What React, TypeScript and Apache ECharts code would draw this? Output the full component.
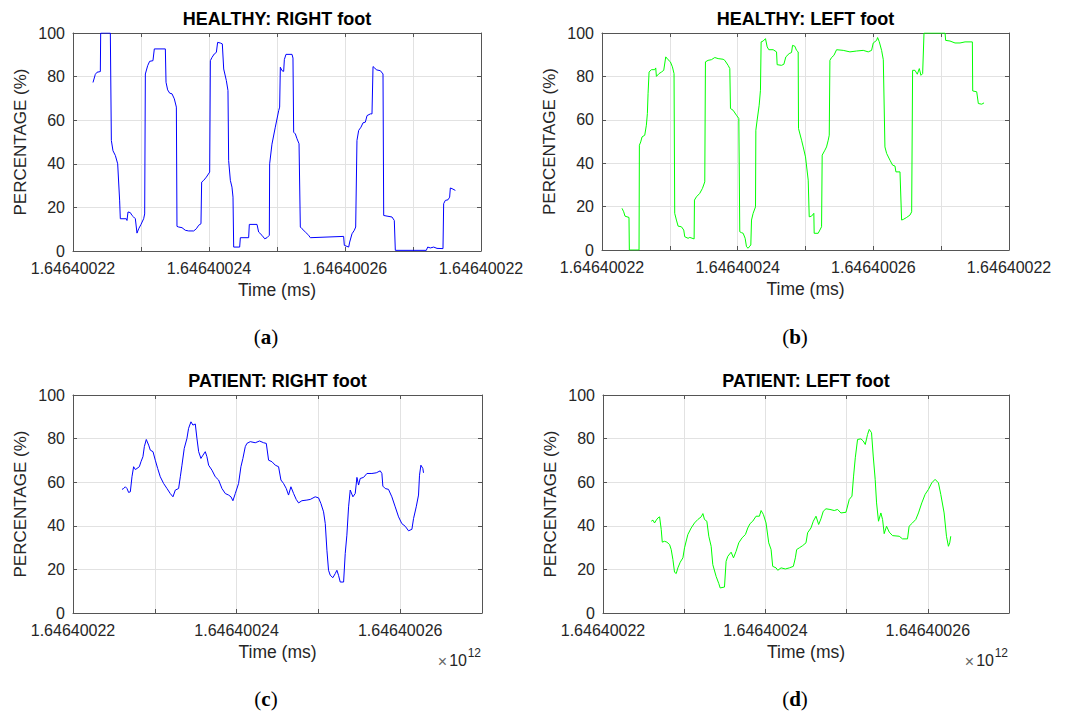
import { useEffect, useRef } from "react";
import * as echarts from "echarts";

// Time axis: absolute timestamps in ms, one grid step every 10 s
const TIME_START_MS = 1646400220000;
const TIME_STEP_MS = 10000;

const HEALTHY_X_TICK_LABELS = ["1.64640022", "", "1.64640024", "", "1.64640026", "", "1.64640022"];
const PATIENT_X_TICK_LABELS = ["1.64640022", "", "1.64640024", "", "1.64640026", ""];

// Healthy subject, right foot: seconds after TIME_START_MS / load percentage
const HEALTHY_RIGHT_T = [
  2.94, 3.28, 3.53, 4.02, 4.07, 5.49, 5.64, 5.88, 6.23, 6.57, 6.86, 6.96, 7.84, 7.94, 8.09, 8.43, 8.68, 8.92, 9.17, 9.41,
  9.66, 10.0, 10.39, 10.54, 10.64, 10.98, 11.27, 11.76, 11.96, 13.58, 13.68, 13.92, 14.22, 14.56, 14.9, 15.2, 15.29, 15.54,
  16.03, 16.52, 17.01, 17.75, 18.14, 18.48, 18.82, 18.92, 19.22, 19.61, 20.1, 20.2, 20.44, 20.78, 21.08, 21.27, 21.67,
  21.96, 22.16, 22.55, 22.79, 22.89, 23.14, 23.38, 23.53, 23.63, 24.51, 24.61, 25.83, 25.93, 27.06, 27.3, 27.79, 28.19,
  28.53, 28.87, 28.92, 29.26, 29.75, 30.25, 30.39, 30.49, 30.74, 30.98, 31.08, 31.32, 32.21, 32.35, 32.45, 32.7, 32.94,
  33.24, 33.43, 33.68, 34.17, 34.66, 34.9, 39.8, 39.9, 40.54, 40.69, 41.03, 41.37, 41.57, 41.76, 42.01, 42.35, 42.65,
  42.99, 43.24, 43.73, 43.97, 44.12, 44.36, 44.61, 45.2, 45.59, 45.69, 46.18, 46.91, 47.25, 47.4, 51.96, 52.16, 52.55,
  53.04, 53.53, 54.41, 54.51, 54.75, 55.15, 55.39, 55.49, 55.74, 56.23,
];
const HEALTHY_RIGHT_PCT = [
  77.3, 81.0, 82.0, 82.3, 100, 100, 50.7, 46.0, 43.8, 40.0, 23.0, 14.8, 14.8, 14.0, 17.9, 17.6, 16.3, 15.6, 14.8, 8.2,
  10.2, 12.2, 14.8, 17.0, 81.2, 85.0, 87.0, 87.3, 92.7, 92.7, 77.4, 73.9, 72.4, 72.1, 69.8, 66.0, 11.3, 11.0,
  10.7, 9.5, 9.2, 9.2, 10.2, 11.8, 12.5, 31.6, 32.4, 33.9, 36.2, 87.3, 88.8, 90.4, 91.1, 95.7, 95.4,
  95.0, 83.5, 78.2, 73.6, 41.5, 32.4, 29.3, 24.7, 1.8, 1.8, 6.1, 6.1, 12.2, 12.2, 8.7, 7.2, 5.6,
  6.1, 7.2, 40.0, 49.0, 56.8, 64.4, 66.0, 84.3, 82.7, 82.4, 87.8, 90.2, 90.2, 88.5, 54.5, 53.7, 51.5,
  49.2, 11.0, 10.2, 8.7, 7.2, 6.1, 6.7, 2.6, 1.8, 4.1, 7.9, 9.5, 11.0, 50.7, 55.3, 56.8, 58.8,
  59.1, 62.1, 62.9, 62.9, 84.6, 84.0, 83.1, 82.7, 81.2, 16.3, 16.0, 15.6, 14.0, 0.3, 0.3, 1.8, 1.4,
  1.8, 1.2, 1.1, 21.7, 23.2, 23.5, 24.7, 28.9, 28.6, 27.8,
];

// Healthy subject, left foot
const HEALTHY_LEFT_T = [
  2.95, 3.2, 3.39, 3.98, 4.03, 5.46, 5.51, 5.71, 5.9, 6.3, 6.54, 6.69, 6.79, 6.94, 7.28, 7.77, 7.92, 8.02, 8.41, 8.76,
  9.1, 9.4, 9.74, 10.08, 10.38, 10.62, 10.72, 10.97, 11.22, 11.71, 12.05, 12.2, 12.69, 12.94, 13.58, 13.63, 13.92, 14.41,
  14.81, 15.15, 15.25, 15.64, 16.13, 16.63, 17.12, 17.86, 18.1, 18.59, 18.84, 18.94, 19.33, 19.82, 20.17, 20.31, 20.56,
  20.81, 21.1, 21.3, 21.54, 21.79, 21.94, 22.04, 22.28, 22.63, 22.68, 22.87, 23.17, 23.36, 23.46, 23.76, 24.1, 24.35,
  24.59, 25.23, 25.73, 25.82, 26.46, 26.81, 27.1, 27.59, 27.94, 28.09, 28.43, 28.68, 28.92, 28.97, 29.42, 29.66, 30.0,
  30.4, 30.55, 30.89, 31.23, 31.28, 31.87, 32.12, 32.37, 32.46, 32.86, 33.1, 33.35, 33.5, 33.6, 33.84, 34.19, 34.58,
  35.56, 36.55, 37.53, 38.51, 39.25, 39.74, 39.99, 40.48, 40.63, 40.87, 41.22, 41.47, 41.71, 41.96, 42.45, 42.84, 43.19,
  43.33, 43.93, 44.17, 44.42, 44.91, 45.4, 45.65, 45.79, 46.14, 46.48, 46.78, 47.02, 47.27, 47.47, 50.57, 50.66, 51.3,
  52.04, 52.78, 53.52, 54.6, 54.65, 55.24, 55.48, 55.98, 56.32,
];
const HEALTHY_LEFT_PCT = [
  19.2, 17.6, 15.6, 15.0, 0, 0, 48.3, 49.8, 52.1, 52.9, 57.5, 62.9, 72.0, 82.0, 83.1, 83.1, 83.9, 80.0, 81.3, 82.0,
  82.8, 89.0, 87.7, 86.7, 84.4, 81.3, 16.9, 13.8, 11.0, 10.7, 9.2, 6.1, 5.4, 5.8, 5.1, 23.0, 24.5, 26.1,
  28.4, 31.4, 86.7, 87.4, 87.7, 88.7, 88.2, 87.9, 87.4, 85.1, 83.6, 65.2, 64.4, 62.1, 60.6, 8.4, 8.0,
  7.7, 5.4, 1.5, 0.8, 1.8, 2.3, 13.8, 16.9, 19.9, 55.2, 59.8, 66.7, 73.6, 95.9, 96.3, 97.4, 93.6,
  92.3, 92.3, 91.3, 85.4, 85.1, 85.6, 89.0, 90.5, 91.0, 94.3, 93.9, 92.0, 91.3, 56.0, 50.6, 47.5, 42.9,
  32.2, 15.3, 15.6, 16.9, 7.7, 7.7, 9.2, 10.7, 43.7, 46.0, 47.5, 50.6, 52.9, 87.4, 88.7, 89.7, 92.3,
  92.0, 91.3, 91.7, 92.0, 91.3, 92.0, 95.4, 96.6, 97.9, 96.0, 92.0, 87.7, 47.5, 44.5, 41.4, 39.1, 38.7,
  36.0, 36.0, 13.8, 14.1, 15.0, 16.1, 17.6, 82.8, 82.8, 81.0, 83.6, 80.5, 81.3, 100, 100, 96.6, 96.3,
  95.4, 95.4, 95.9, 95.9, 73.3, 72.9, 67.5, 67.2, 67.8,
];

// Patient, right foot
const PATIENT_RIGHT_T = [
  5.99, 6.19, 6.4, 6.6, 6.8, 7.01, 7.21, 7.41, 7.62, 7.82, 8.11, 8.31, 8.55, 8.72, 8.96, 9.25, 9.45, 9.78, 10.06, 10.35,
  10.67, 11.08, 11.49, 11.89, 12.22, 12.51, 12.91, 13.12, 13.32, 13.6, 13.93, 14.13, 14.42, 14.66, 14.95, 15.15, 15.36,
  15.64, 15.89, 16.17, 16.37, 16.58, 16.99, 17.39, 17.8, 18.21, 18.62, 19.02, 19.31, 19.55, 19.84, 20.24, 20.53, 20.77,
  21.06, 21.26, 21.67, 22.28, 22.81, 23.3, 23.63, 23.91, 24.32, 24.73, 25.13, 25.42, 25.74, 26.07, 26.35, 26.64, 26.97,
  27.29, 27.58, 27.98, 28.59, 29.0, 29.61, 30.02, 30.31, 30.63, 30.84, 31.04, 31.24, 31.45, 31.77, 32.06, 32.26, 32.46,
  32.67, 33.08, 33.28, 33.48, 33.69, 33.89, 34.22, 34.5, 34.71, 34.91, 35.11, 35.52, 35.93, 36.54, 37.07, 37.56, 37.76,
  37.88, 38.17, 38.57, 38.98, 39.39, 39.8, 40.2, 40.61, 41.02, 41.43, 41.63, 41.96, 42.24, 42.36, 42.53, 42.77, 42.85,
];
const PATIENT_RIGHT_PCT = [
  56.7, 57.1, 57.9, 57.1, 55.3, 55.6, 62.5, 67.1, 65.8, 66.3, 67.1, 69.4, 71.7, 76.3, 79.6, 77.0, 74.7, 74.0, 70.1, 66.3,
  62.5, 59.4, 57.1, 54.8, 53.3, 56.4, 57.1, 62.5, 67.8, 75.5, 80.1, 84.7, 87.7, 86.2, 86.7, 80.1, 74.0,
  70.9, 72.4, 74.0, 71.7, 67.8, 65.5, 62.5, 61.0, 57.1, 54.8, 54.1, 53.3, 51.5, 54.8, 59.4, 67.1, 70.9,
  76.3, 77.8, 78.6, 78.1, 78.9, 78.1, 77.8, 70.1, 69.4, 67.8, 67.1, 61.0, 59.4, 57.1, 54.1, 57.9, 54.8,
  52.1, 50.5, 51.5, 51.8, 52.1, 53.3, 52.8, 50.2, 46.4, 41.0, 28.8, 19.6, 17.3, 16.2, 18.1, 19.6, 17.3,
  14.2, 14.2, 27.3, 35.7, 48.7, 56.4, 53.3, 54.8, 62.2, 58.7, 61.7, 62.2, 64.0, 64.0, 64.3, 65.2, 64.0,
  58.2, 57.1, 56.7, 53.3, 48.7, 44.1, 41.0, 39.8, 37.7, 38.4, 43.3, 48.7, 54.1, 63.2, 67.8, 66.3, 64.3,
];

// Patient, left foot
const PATIENT_LEFT_T = [
  5.94, 6.15, 6.35, 6.56, 6.76, 6.97, 7.17, 7.3, 7.58, 7.87, 8.2, 8.4, 8.61, 8.81, 9.02, 9.22, 9.51, 9.84, 10.04, 10.45,
  10.86, 11.27, 11.68, 12.09, 12.3, 12.5, 12.79, 13.03, 13.32, 13.52, 13.93, 14.26, 14.43, 14.96, 15.16, 15.37, 15.78,
  16.07, 16.39, 16.72, 17.13, 17.54, 17.83, 18.11, 18.44, 18.85, 19.26, 19.47, 19.75, 20.08, 20.41, 20.7, 20.9, 21.31,
  21.52, 21.93, 22.46, 22.95, 23.44, 23.69, 23.85, 24.18, 24.59, 25.0, 25.2, 25.61, 25.9, 26.23, 26.56, 26.84, 27.13,
  27.46, 27.95, 28.48, 28.89, 29.3, 29.92, 30.33, 30.66, 30.86, 31.07, 31.35, 31.76, 32.05, 32.3, 32.58, 32.79, 33.07,
  33.28, 33.52, 33.69, 33.93, 34.22, 34.43, 34.63, 34.92, 35.25, 35.66, 36.48, 36.89, 37.5, 37.7, 38.11, 38.52, 38.85,
  39.26, 39.67, 40.08, 40.49, 40.9, 41.31, 41.6, 42.01, 42.3, 42.54, 42.7, 42.83,
];
const PATIENT_LEFT_PCT = [
  42.1, 42.6, 41.3, 42.6, 43.6, 44.1, 38.3, 32.5, 32.9, 32.5, 31.4, 29.1, 24.5, 18.7, 18.1, 20.7, 23.3, 25.3, 29.9, 36.0,
  39.0, 41.3, 42.9, 44.1, 45.6, 42.9, 42.1, 35.2, 30.6, 22.2, 16.8, 13.5, 11.5, 11.9, 23.7, 26.0, 27.9,
  25.3, 28.3, 32.2, 34.5, 36.0, 39.0, 41.0, 42.1, 44.4, 44.4, 47.0, 45.2, 41.3, 32.2, 29.1, 21.4, 20.7,
  19.6, 20.7, 20.2, 20.7, 21.4, 25.3, 29.1, 29.9, 30.9, 32.2, 36.8, 39.0, 42.1, 44.4, 40.6, 43.2, 46.7,
  47.8, 47.5, 47.0, 47.5, 45.9, 46.2, 52.1, 53.6, 62.8, 71.2, 79.6, 79.9, 78.9, 77.3, 81.9, 84.2, 82.7,
  72.0, 61.3, 50.5, 42.1, 45.9, 42.9, 36.4, 39.8, 37.1, 35.5, 35.2, 34.0, 34.0, 39.8, 41.3, 42.9, 45.9,
  50.5, 54.4, 56.7, 59.7, 61.3, 59.7, 54.4, 45.9, 35.2, 30.6, 32.2, 35.2,
];

const AXIS_COLOR = "#555555";
const TEXT_COLOR = "#262626";
const GRID_COLOR = "#e2e2e2";
const SANS = '"Liberation Sans", Arial, Helvetica, sans-serif';
const SERIF = '"Liberation Serif", "Times New Roman", serif';

type Panel = {
  title: string;
  tag: string;
  color: string;
  t: number[];
  pct: number[];
  tickLabels: string[];
  exponent: boolean;
  box: { left: number; top: number; width: number; height: number };
  tagX: number;
  tagY: number;
};

const PANELS: Panel[] = [
  {
    title: "HEALTHY: RIGHT foot", tag: "a", color: "#0000ff", t: HEALTHY_RIGHT_T, pct: HEALTHY_RIGHT_PCT,
    tickLabels: HEALTHY_X_TICK_LABELS, exponent: false,
    box: { left: 73, top: 33, width: 408, height: 218 }, tagX: 266, tagY: 337,
  },
  {
    title: "HEALTHY: LEFT foot", tag: "b", color: "#00ff00", t: HEALTHY_LEFT_T, pct: HEALTHY_LEFT_PCT,
    tickLabels: HEALTHY_X_TICK_LABELS, exponent: false,
    box: { left: 602, top: 33, width: 407, height: 217 }, tagX: 795, tagY: 337,
  },
  {
    title: "PATIENT: RIGHT foot", tag: "c", color: "#0000ff", t: PATIENT_RIGHT_T, pct: PATIENT_RIGHT_PCT,
    tickLabels: PATIENT_X_TICK_LABELS, exponent: true,
    box: { left: 73, top: 395, width: 409, height: 218 }, tagX: 266, tagY: 699,
  },
  {
    title: "PATIENT: LEFT foot", tag: "d", color: "#00ff00", t: PATIENT_LEFT_T, pct: PATIENT_LEFT_PCT,
    tickLabels: PATIENT_X_TICK_LABELS, exponent: true,
    box: { left: 603, top: 395, width: 406, height: 218 }, tagX: 795, tagY: 699,
  },
];

function text(x: number, y: number, str: string, font: string, align: string, vAlign: string, fill = TEXT_COLOR) {
  return {
    type: "text",
    x,
    y,
    silent: true,
    style: {
      text: str,
      font,
      fill,
      align,
      verticalAlign: vAlign,
      textAlign: align,
      textVerticalAlign: vAlign,
    },
  };
}

function buildOption() {
  const lineStyle = { color: AXIS_COLOR, width: 1 };
  const grid: any[] = [];
  const xAxis: any[] = [];
  const yAxis: any[] = [];
  const series: any[] = [];
  const graphic: any[] = [];

  PANELS.forEach((p, i) => {
    grid.push({ ...p.box, containLabel: false, show: false });
    const xMax = TIME_START_MS + (p.tickLabels.length - 1) * TIME_STEP_MS;
    const xCommon = {
      type: "value",
      gridIndex: i,
      min: TIME_START_MS,
      max: xMax,
      interval: TIME_STEP_MS,
      axisLine: { show: true, onZero: false, lineStyle },
      axisTick: { show: true, inside: true, length: 4, lineStyle },
    };
    xAxis.push({
      ...xCommon,
      position: "bottom",
      name: "Time (ms)",
      nameLocation: "middle",
      nameGap: 30,
      nameTextStyle: { fontFamily: SANS, fontSize: 17.5, color: TEXT_COLOR },
      axisLabel: {
        show: true,
        margin: 9,
        fontFamily: SANS,
        fontSize: 16,
        color: TEXT_COLOR,
        showMinLabel: true,
        showMaxLabel: true,
        formatter: (v: number) => p.tickLabels[Math.round((v - TIME_START_MS) / TIME_STEP_MS)] ?? "",
      },
      splitLine: { show: true, lineStyle: { color: GRID_COLOR, width: 1 } },
    });
    xAxis.push({
      ...xCommon,
      position: "top",
      axisLabel: { show: false },
      splitLine: { show: false },
    });

    const yCommon = {
      type: "value",
      gridIndex: i,
      min: 0,
      max: 100,
      interval: 20,
      axisLine: { show: true, onZero: false, lineStyle },
      axisTick: { show: true, inside: true, length: 4, lineStyle },
    };
    yAxis.push({
      ...yCommon,
      position: "left",
      name: "PERCENTAGE (%)",
      nameLocation: "middle",
      nameGap: 44,
      nameTextStyle: { fontFamily: SANS, fontSize: 17, color: TEXT_COLOR },
      axisLabel: { show: true, margin: 8, fontFamily: SANS, fontSize: 16, color: TEXT_COLOR },
      splitLine: { show: true, lineStyle: { color: GRID_COLOR, width: 1 } },
    });
    yAxis.push({
      ...yCommon,
      position: "right",
      axisLabel: { show: false },
      splitLine: { show: false },
    });

    series.push({
      type: "line",
      name: p.title,
      xAxisIndex: 2 * i,
      yAxisIndex: 2 * i,
      data: p.t.map((s, k) => [TIME_START_MS + Math.round(s * 1000), p.pct[k]]),
      showSymbol: false,
      symbol: "none",
      silent: true,
      clip: true,
      z: 3,
      lineStyle: { width: 1, color: p.color },
      itemStyle: { color: p.color },
    });

    const cx = p.box.left + p.box.width / 2;
    graphic.push(text(cx, p.box.top - 14, p.title, `bold 18px ${SANS}`, "center", "middle", "#000000"));

    graphic.push({
      type: "text",
      x: p.tagX,
      y: p.tagY,
      silent: true,
      style: {
        text: `{p|(}{b|${p.tag}}{p|)}`,
        align: "center",
        verticalAlign: "middle",
        textAlign: "center",
        textVerticalAlign: "middle",
        fill: "#000000",
        rich: {
          p: { fontFamily: SERIF, fontSize: 21, fontWeight: "normal", fill: "#000000" },
          b: { fontFamily: SERIF, fontSize: 21, fontWeight: "bold", fill: "#000000" },
        },
      },
    });

    if (p.exponent) {
      const right = p.box.left + p.box.width;
      const bottom = p.box.top + p.box.height;
      graphic.push(text(right - 1, bottom + 40, "12", `12px ${SANS}`, "right", "middle"));
      graphic.push(text(right - 15, bottom + 47, "10", `16px ${SANS}`, "right", "middle"));
      graphic.push(text(right - 35, bottom + 48, "×", `16px ${SANS}`, "right", "middle", "#666666"));
    }
  });

  return {
    animation: false,
    backgroundColor: "#ffffff",
    textStyle: { fontFamily: SANS },
    grid,
    xAxis,
    yAxis,
    series,
    graphic: { elements: graphic },
  };
}

export default function App() {
  const ref = useRef<HTMLDivElement>(null);

  useEffect(() => {
    if (!ref.current) return;
    const chart = echarts.init(ref.current, undefined, { renderer: "svg" });
    chart.setOption(buildOption() as any);
    return () => chart.dispose();
  }, []);

  return (
    <div
      ref={ref}
      style={{ position: "absolute", left: 0, top: 0, width: 1068, height: 711, background: "#ffffff" }}
    />
  );
}
